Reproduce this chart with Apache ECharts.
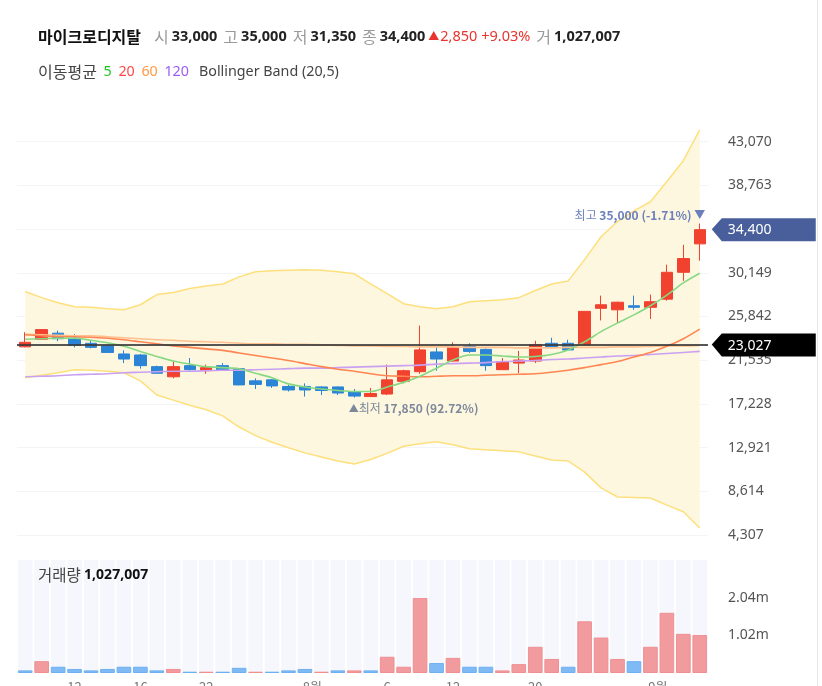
<!DOCTYPE html>
<html>
<head>
<meta charset="utf-8">
<script src="https://cdn.jsdelivr.net/npm/echarts@6/dist/echarts.min.js"></script>
<style>
html,body{margin:0;padding:0;background:#fff;}
#main{width:822px;height:686px;}
</style>
</head>
<body>
<div id="main"></div>
<script>
// 마이크로디지탈 일봉 (2021.07.07 ~ 2021.09.03)
var stockName = '마이크로디지탈';
var dates = ['2021-07-07','2021-07-08','2021-07-09','2021-07-12','2021-07-13','2021-07-14','2021-07-15','2021-07-16',
  '2021-07-19','2021-07-20','2021-07-21','2021-07-22','2021-07-23','2021-07-26','2021-07-27','2021-07-28','2021-07-29',
  '2021-07-30','2021-08-02','2021-08-03','2021-08-04','2021-08-05','2021-08-06','2021-08-09','2021-08-10','2021-08-11',
  '2021-08-12','2021-08-13','2021-08-17','2021-08-18','2021-08-19','2021-08-20','2021-08-23','2021-08-24','2021-08-25',
  '2021-08-26','2021-08-27','2021-08-30','2021-08-31','2021-09-01','2021-09-02','2021-09-03'];

var openP  = [22850,23600,24200,23700,23200,22950,22150,22050,20900,19900,21000,20500,21000,20700,19500,19600,18950,18950,18900,18900,18400,17950,18200,19450,20400,22350,21450,22900,22600,20600,21250,21450,23200,23200,23050,26650,26500,26900,26750,27550,30200,33000];
var highP  = [24300,24600,24450,24100,23500,23100,22500,22150,21000,21450,21750,21100,21250,20750,19750,19650,19100,19250,18950,18950,18700,18800,21100,20600,24950,22800,23300,23200,22700,21750,22450,23450,23750,23550,26350,27900,27300,27900,28000,30950,32900,35000];
var lowP   = [22800,23550,23400,22800,22700,22250,21250,20700,20200,19750,20500,20200,20500,19050,18700,18800,18450,17950,18100,18100,17850,17900,18100,19250,20200,20500,21400,22250,20500,20600,20250,21250,22700,22500,23000,25450,25250,26500,25600,27400,29350,31350];
var closeP = [23300,24550,23650,23000,22800,22300,21650,21000,20250,20900,20600,20800,20600,19100,19150,19000,18600,18600,18550,18300,18000,18250,19600,20500,22550,21650,22800,22400,21000,21400,21550,23050,22800,22550,26350,27000,27250,26750,27300,30200,31550,34400];

var volume = [70000,320000,170000,110000,70000,110000,170000,170000,70000,110000,35000,35000,35000,140000,35000,35000,70000,110000,35000,70000,70000,70000,
  440000,170000,2030000,270000,410000,170000,170000,70000,240000,710000,380000,170000,1400000,960000,380000,320000,710000,1630000,1060000,1027007];
// 1 = 상승(빨강), 0 = 하락(파랑)
var volUp = [0,1,0,0,0,0,0,0,0,1,0,1,0,0,1,0,0,0,1,0,1,0,1,1,1,0,1,0,0,1,1,1,1,0,1,1,1,0,1,1,1,1];

var ma5   = [23600,23650,23700,23700,23500,23250,22900,22400,21900,21450,21150,20900,20800,20700,20250,19800,19200,18900,18700,18550,18450,18450,18900,19350,19950,20750,21550,22050,22050,21950,21850,21900,22100,22550,23350,24350,25200,26000,26900,27950,29150,30100];
var ma20  = [24050,23950,23850,23850,23800,23700,23550,23350,23150,22950,22800,22650,22500,22250,22000,21750,21500,21200,20900,20650,20450,20200,20000,19950,19900,19950,20000,20000,20050,20100,20150,20200,20350,20550,20800,21100,21400,21850,22300,22900,23650,24600];
var ma60  = [24100,24050,24000,23950,23950,23850,23750,23650,23550,23500,23400,23350,23300,23200,23150,23150,23100,23100,23050,23000,22950,22950,22900,22900,22850,22850,22850,22800,22800,22800,22750,22750,22750,22800,22800,22800,22850,22850,22900,22950,22950,23000];
var ma120 = [19900,19950,20000,20100,20150,20200,20300,20350,20400,20450,20450,20500,20550,20550,20600,20650,20700,20750,20750,20800,20850,20900,20950,21000,21050,21150,21200,21250,21300,21400,21450,21500,21600,21650,21750,21850,21950,22000,22100,22200,22300,22400];
var bbUpper = [28300,27700,27200,26800,26750,26600,26500,27000,28000,28200,28600,28850,29050,29750,30250,30350,30400,30450,30400,30250,30050,29050,28100,27100,26800,26600,26800,27300,27400,27500,27700,28400,29050,29350,31450,33700,35200,36250,37150,39150,41200,44250];
var bbLower = [19800,20050,20300,20600,20550,20450,20300,19500,18100,17600,17100,16650,16050,14950,14100,13450,12900,12400,12000,11600,11300,11750,12350,13050,13300,13500,13200,12800,12700,12600,12500,12100,11700,11600,10500,8950,8050,8000,7950,7250,6600,5000];

var priceStep = 4307;          // 가격축 눈금 간격
var priceMin = 4307;
var priceMax = 47377;
var volStep = 1020000;         // 거래량축 눈금 간격
var volMax = 3060000;
var refPrice = 23027;          // 기준선

var tickDates = ['2021-07-12','2021-07-16','2021-07-22','2021-08-02','2021-08-06','2021-08-12','2021-08-20','2021-09-01'];
var tickText  = ['12','16','22','8월','6','12','20','9월'];

var UP = '#f1412f', DOWN = '#2b84d6';
var KR = '"Noto Sans CJK KR", sans-serif';
var LAT = '"Noto Sans", "Noto Sans CJK KR", sans-serif';
var fmt = function (v) { return Math.round(v).toLocaleString('en-US'); };

var last = dates.length - 1;
var prevClose = closeP[last - 1];
var diff = closeP[last] - prevClose;
var pct = diff / prevClose * 100;
var maxHigh = Math.max.apply(null, highP), maxIdx = highP.indexOf(maxHigh);
var minLow = Math.min.apply(null, lowP), minIdx = lowP.indexOf(minLow);
var hiPct = (closeP[last] - maxHigh) / maxHigh * 100;
var loPct = (closeP[last] - minLow) / minLow * 100;

var candleData = dates.map(function (d, i) { return [openP[i], closeP[i], lowP[i], highP[i]]; });
var bandWidth = bbUpper.map(function (v, i) { return v - bbLower[i]; });
var volData = volume.map(function (v, i) {
  return {
    value: v,
    itemStyle: volUp[i] ? { color: '#f29b9e', borderColor: '#ef8f93', borderWidth: 1 }
                        : { color: '#7fbaf5', borderColor: '#6eb0f2', borderWidth: 1 }
  };
});

var tagPath = 'path://M0,11 L10,0 L104,0 L104,23 L10,23 Z';

function maLine(name, data, color) {
  return {
    name: name, type: 'line', data: data, xAxisIndex: 0, yAxisIndex: 0,
    smooth: 0.3, symbol: 'none', z: 4, silent: true,
    lineStyle: { color: color, width: 1.6 }
  };
}

var myChart = echarts.init(document.getElementById('main'));

var option = {
  animation: false,
  textStyle: { fontFamily: KR },
  grid: [
    { left: 17, right: 114, top: 98, height: 437, outerBoundsMode: 'none', containLabel: false },
    { left: 17, right: 114, top: 560, height: 113, outerBoundsMode: 'none', containLabel: false }
  ],
  xAxis: [
    { type: 'category', gridIndex: 0, data: dates, boundaryGap: true, show: false },
    {
      type: 'category', gridIndex: 1, data: dates, boundaryGap: true,
      axisLine: { show: false }, axisTick: { show: false },
      axisLabel: {
        color: '#777', fontSize: 13, margin: 8, fontFamily: KR,
        interval: function (idx, val) { return tickDates.indexOf(val) >= 0; },
        formatter: function (val) {
          var k = tickDates.indexOf(val);
          if (k < 0) return '';
          return tickText[k].indexOf('월') > 0 ? '{m|' + tickText[k] + '}' : tickText[k];
        },
        rich: { m: { color: '#777', fontSize: 13, fontFamily: KR, padding: [0, 18, 0, 0] } }
      }
    }
  ],
  yAxis: [
    {
      type: 'value', gridIndex: 0, position: 'right', min: priceMin, max: priceMax, interval: priceStep,
      axisLine: { show: false }, axisTick: { show: false },
      splitLine: { showMaxLine: false, lineStyle: { color: '#f3f4f6', width: 1 } },
      axisLabel: { color: '#555', fontSize: 14, margin: 20, showMaxLabel: false, fontFamily: LAT, formatter: fmt }
    },
    {
      type: 'value', gridIndex: 1, position: 'right', min: 0, max: volMax, interval: volStep,
      axisLine: { show: false }, axisTick: { show: false }, splitLine: { show: false },
      axisLabel: {
        color: '#555', fontSize: 14, margin: 20, showMinLabel: false, showMaxLabel: false,
        fontFamily: LAT,
        formatter: function (v) { return (v / 1e6).toFixed(2) + 'm'; }
      }
    }
  ],
  series: [
    {
      name: 'BB하단', type: 'line', data: bbLower, stack: 'bb', symbol: 'none', z: 1, silent: true,
      lineStyle: { color: '#fde07c', width: 1.5 }
    },
    {
      name: 'BB상단', type: 'line', data: bandWidth, stack: 'bb', symbol: 'none', z: 1, silent: true,
      lineStyle: { color: '#fde07c', width: 1.5 },
      areaStyle: { color: '#fef7df', opacity: 1 }
    },
    {
      name: stockName, type: 'candlestick', data: candleData, xAxisIndex: 0, yAxisIndex: 0, z: 3,
      barWidth: 12,
      itemStyle: { color: UP, color0: DOWN, borderColor: UP, borderColor0: DOWN, borderWidth: 1 }
    },
    maLine('MA120', ma120, '#c9a0f2'),
    maLine('MA60', ma60, '#ffc08e'),
    maLine('MA20', ma20, '#ff8552'),
    maLine('MA5', ma5, '#86d883'),
    {
      name: 'marks', type: 'line', data: [], xAxisIndex: 0, yAxisIndex: 0, z: 6, silent: true,
      markLine: {
        symbol: 'none', silent: true,
        lineStyle: { color: '#3a3a3a', width: 2, type: 'solid', opacity: 0.85 },
        label: { show: false },
        data: [{ yAxis: refPrice }]
      },
      markPoint: {
        silent: true,
        data: [
          {
            coord: [dates[last], closeP[last]], symbol: tagPath, symbolSize: [104, 23], symbolOffset: [64, 0],
            itemStyle: { color: '#485f9b' },
            label: { show: true, position: [16, 12], verticalAlign: 'middle', align: 'left', color: '#fff', fontSize: 14,
              fontFamily: LAT, formatter: fmt(closeP[last]) }
          },
          {
            coord: [dates[last], refPrice], symbol: tagPath, symbolSize: [104, 23], symbolOffset: [64, 0],
            itemStyle: { color: '#000' },
            label: { show: true, position: [16, 12], verticalAlign: 'middle', align: 'left', color: '#fff', fontSize: 14,
              fontFamily: LAT, formatter: fmt(refPrice) }
          },
          {
            coord: [dates[maxIdx], maxHigh], symbol: 'circle', symbolSize: 1, itemStyle: { color: 'rgba(0,0,0,0)' },
            label: {
              show: true, position: [6, -2], align: 'right', verticalAlign: 'bottom',
              formatter: '{a|최고} {b|' + fmt(maxHigh) + ' (' + hiPct.toFixed(2) + '%)} {c|▼}',
              rich: {
                a: { color: '#7084bb', fontSize: 12, fontFamily: KR },
                b: { color: '#6a7fbb', fontSize: 12, fontWeight: 'bold', fontFamily: KR },
                c: { color: '#6a7fbb', fontSize: 11 }
              }
            }
          },
          {
            coord: [dates[minIdx], minLow], symbol: 'circle', symbolSize: 1, itemStyle: { color: 'rgba(0,0,0,0)' },
            label: {
              show: true, position: [-5, 5], align: 'left', verticalAlign: 'top',
              formatter: '{c|▲}{a|최저} {b|' + fmt(minLow) + ' (' + loPct.toFixed(2) + '%)}',
              rich: {
                a: { color: '#7d889c', fontSize: 12, fontFamily: KR },
                b: { color: '#7d889c', fontSize: 12, fontWeight: 'bold', fontFamily: KR },
                c: { color: '#7d889c', fontSize: 10 }
              }
            }
          }
        ]
      }
    },
    {
      name: '거래량', type: 'bar', data: volData, xAxisIndex: 1, yAxisIndex: 1, barWidth: '89%',
      showBackground: true, backgroundStyle: { color: '#f5f7fc' }
    }
  ],
  graphic: [
    {
      type: 'text', left: 38, top: 29,
      style: {
        text: '{n|' + stockName + '}{k|시}{v|' + fmt(openP[last]) + '}{k|고}{v|' + fmt(highP[last]) + '}{k|저}{v|' + fmt(lowP[last]) +
              '}{k|종}{v|' + fmt(closeP[last]) + '}{s|▲}{u|' + fmt(diff) + ' +' + pct.toFixed(2) + '%}{k|거}{v|' + fmt(volume[last]) + '}',
        rich: {
          n: { fontSize: 16, fontWeight: 'bold', fill: '#111', fontFamily: KR, padding: [0, 7, 0, 0] },
          k: { fontSize: 16, fill: '#9a9a9a', fontFamily: KR, padding: [0, 3, 0, 6] },
          v: { fontSize: 14.5, fontWeight: 'bold', fill: '#222', fontFamily: LAT },
          s: { fontSize: 11, fill: '#e8342c', fontFamily: LAT, padding: [0, 1, 0, 3] },
          u: { fontSize: 14.5, fill: '#e8342c', fontFamily: LAT }
        }
      }
    },
    {
      type: 'text', left: 38, top: 64,
      style: {
        text: '{t|이동평균}  {g|5}  {r|20}  {o|60}  {p|120}   {e|Bollinger Band (20,5)}',
        rich: {
          t: { fontSize: 16, fill: '#444', fontFamily: KR },
          e: { fontSize: 14.3, fill: '#444', fontFamily: LAT },
          g: { fontSize: 14.3, fill: '#22c222', fontFamily: LAT },
          r: { fontSize: 14.3, fill: '#ff4a4a', fontFamily: LAT },
          o: { fontSize: 14.3, fill: '#ff9a45', fontFamily: LAT },
          p: { fontSize: 14.3, fill: '#9b5cf6', fontFamily: LAT }
        }
      }
    },
    {
      type: 'text', left: 38, top: 567, z: 10,
      style: {
        text: '{t|거래량} {v|' + fmt(volume[last]) + '}',
        rich: {
          t: { fontSize: 15.5, fill: '#444', fontFamily: KR },
          v: { fontSize: 14, fontWeight: 'bold', fill: '#111', fontFamily: LAT }
        }
      }
    },
    {
      type: 'line', shape: { x1: 817.5, y1: 0, x2: 817.5, y2: 686 },
      style: { stroke: '#e4e6ea', lineWidth: 1 }
    }
  ]
};

myChart.setOption(option);
window.onresize = myChart.resize;
</script>
</body>
</html>
